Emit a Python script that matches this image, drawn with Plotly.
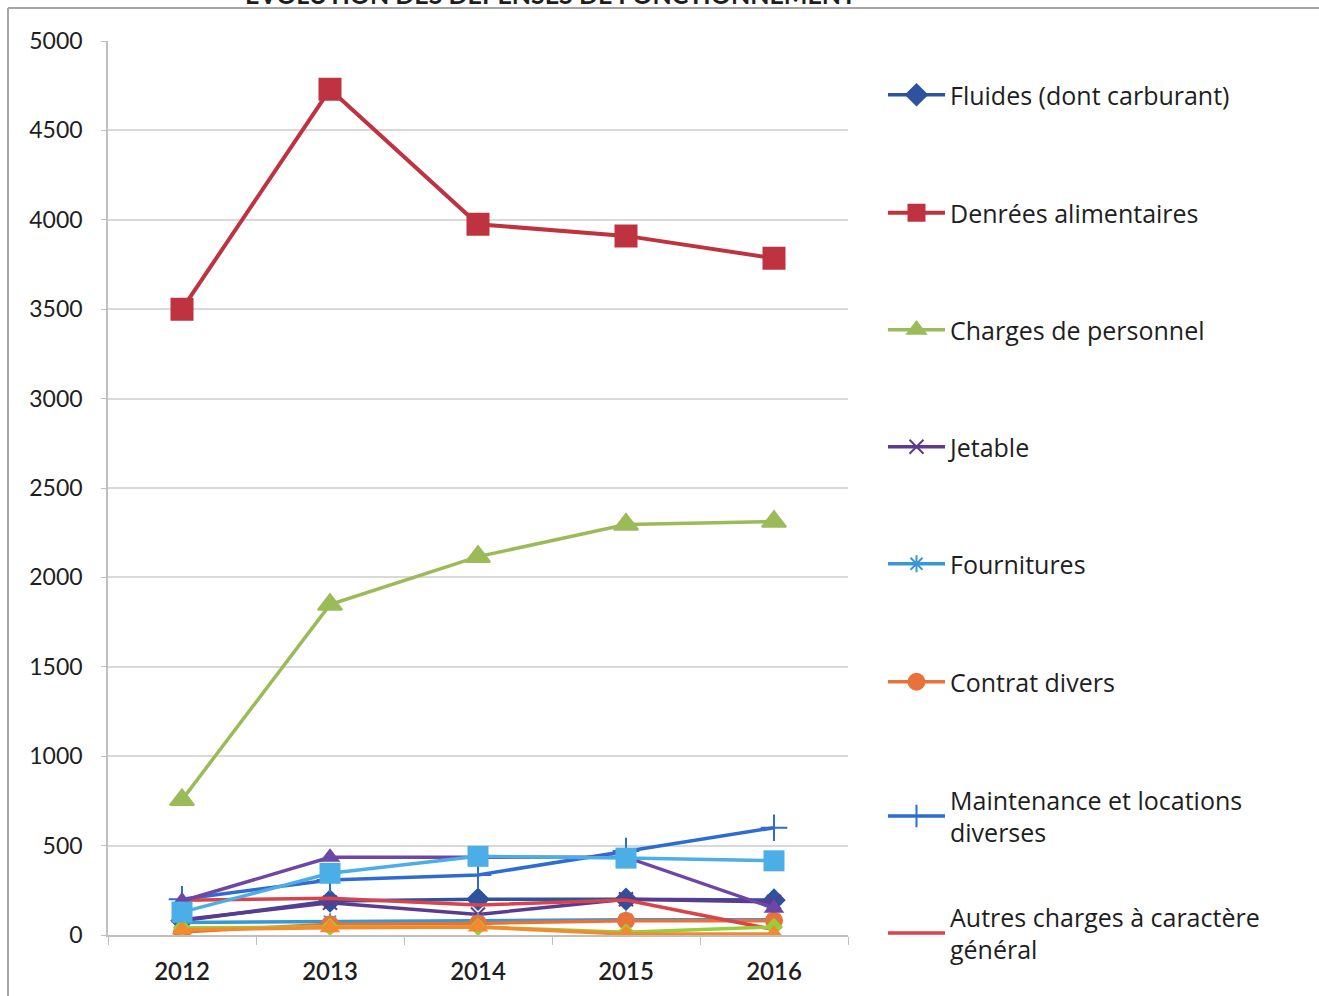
import plotly.graph_objects as go

# Years on the category axis
years = ["2012", "2013", "2014", "2015", "2016"]

# Expense series (k€)
fluides = [80, 190, 200, 200, 195]
denrees = [3500, 4730, 3975, 3910, 3785]
charges_personnel = [756, 1848, 2116, 2296, 2312]
jetable = [85, 180, 115, 200, 185]
fournitures = [70, 75, 80, 85, 85]
contrat_divers = [17, 60, 65, 80, 80]
maintenance = [200, 308, 336, 470, 600]
autres_charges = [195, 205, 168, 196, 30]

# Further lines plotted without a legend entry
serie_9 = [40, 45, 45, 15, 45]
serie_10 = [30, 40, 45, 5, 5]
serie_11 = [190, 435, 435, 435, 150]
serie_12 = [128, 345, 440, 430, 415]

y_ticks = [0, 500, 1000, 1500, 2000, 2500, 3000, 3500, 4000, 4500, 5000]

FONT = "Lato"
LEGEND_FONT = "Open Sans"

# plot-area pixel geometry used to place frame, title and legends
W, H = 1319, 996
L, R, T, B = 108, 848, 41, 935


def px_x(x):
    return (x - L) / (R - L)


def px_y(y):
    return (B - y) / (B - T)


fig = go.Figure()

styles = [
    # name, data, colour, symbol, size, line width, legend key, legend top px
    ("Fluides (dont carburant)", fluides, "#2D52A0", "diamond", 16, 3.5, "legend", 94),
    ("Denrées alimentaires", denrees, "#BF3340", "square", 21, 4, "legend2", 212),
    ("Charges de personnel", charges_personnel, "#9BBB59", "triangle-up", 21, 3.5, "legend3", 329),
    ("Jetable", jetable, "#5A3B8F", "x-thin", 14, 3.5, "legend4", 446),
    ("Fournitures", fournitures, "#3A97D4", "asterisk", 14, 3.5, "legend5", 563),
    ("Contrat divers", contrat_divers, "#E8723A", "circle", 16, 3.5, "legend6", 681),
    ("Maintenance et locations<br>diverses", maintenance, "#2E6CCF", "cross-thin", 19, 3.5, "legend7", 799),
    ("Autres charges à caractère<br>général", autres_charges, "#D9434A", None, 0, 3.5, "legend8", 916),
]

extras = [
    (serie_9, "#9ACD3A", "diamond", 14),
    (serie_10, "#F38A2E", "triangle-up", 18),
    (serie_11, "#6E47A6", "triangle-up", 18),
    (serie_12, "#4BAEE6", "square", 21),
]

for name, data, color, symbol, size, lw, leg, _ in styles:
    marker = dict(color=color, size=size, symbol=symbol or "circle",
                  line=dict(color=color, width=2))
    fig.add_trace(go.Scatter(
        x=years, y=data, name=name,
        mode="lines+markers" if symbol else "lines",
        line=dict(color=color, width=lw),
        marker=marker,
        legend=leg,
    ))

for data, color, symbol, size in extras:
    fig.add_trace(go.Scatter(
        x=years, y=data, mode="lines+markers", showlegend=False,
        line=dict(color=color, width=3.5),
        marker=dict(color=color, size=size, symbol=symbol),
        hoverinfo="skip",
    ))

layout_legends = {}
for name, data, color, symbol, size, lw, leg, top in styles:
    layout_legends[leg] = dict(
        x=px_x(883), y=px_y(top - 22), xanchor="left", yanchor="top",
        font=dict(family=LEGEND_FONT, size=25, color="#1E1E1E"),
        bgcolor="rgba(0,0,0,0)", itemwidth=57,
    )

fig.update_layout(
    width=W, height=H,
    margin=dict(l=L, r=W - R, t=T, b=H - B),
    paper_bgcolor="white", plot_bgcolor="white",
    font=dict(family=FONT, size=23, color="#1E1E1E"),
    **layout_legends,
    xaxis=dict(
        type="category", range=[-0.5, 4.5],
        showgrid=False, showline=True, linecolor="#BFBFBF", linewidth=1.5,
        ticks="outside", tickson="boundaries", ticklen=8, tickcolor="#BFBFBF",
        ticklabelstandoff=14,
        tickfont=dict(family=FONT, size=24, color="#1E1E1E", weight=600),
    ),
    yaxis=dict(
        range=[0, 5000], tickvals=y_ticks, ticktext=[str(v) for v in y_ticks],
        showgrid=True, gridcolor="#D9D9D9", gridwidth=1.5,
        showline=True, linecolor="#BFBFBF", linewidth=1.5,
        ticks="outside", ticklen=5, tickcolor="#BFBFBF",
        ticklabelstandoff=14, zeroline=False,
        tickfont=dict(family=FONT, size=23, color="#1E1E1E"),
    ),
    shapes=[
        # chart-area frame
        dict(type="line", xref="paper", yref="paper",
             x0=px_x(8), x1=px_x(W + 5), y0=px_y(8), y1=px_y(8),
             line=dict(color="#A6A6A6", width=2)),
        dict(type="line", xref="paper", yref="paper",
             x0=px_x(8), x1=px_x(8), y0=px_y(8), y1=px_y(H + 5),
             line=dict(color="#A6A6A6", width=2)),
    ],
    annotations=[
        # chart title, sitting above the frame's top edge
        dict(text="<b>ÉVOLUTION DES DÉPENSES DE FONCTIONNEMENT</b>",
             xref="paper", yref="paper", x=px_x(243), y=px_y(11),
             xanchor="left", yanchor="bottom", showarrow=False,
             font=dict(family=FONT, size=25, color="#1E1E1E")),
    ],
)

fig.write_html("out.html")
